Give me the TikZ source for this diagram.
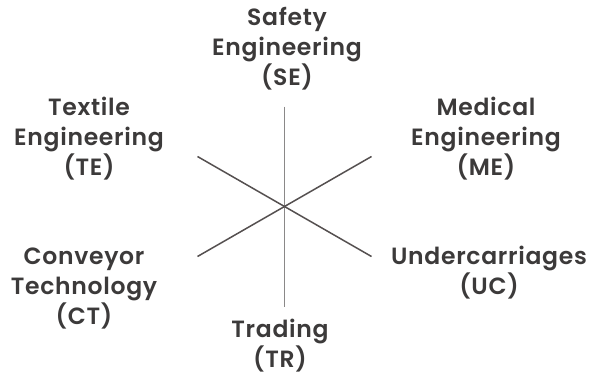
\documentclass[tikz,border=0pt]{standalone}
\usepackage{fontspec}
\setmainfont{Poppins}[LetterSpace=3,BoldFont={Poppins SemiBold}]
\definecolor{txt}{HTML}{3C3A3A}
\definecolor{vline}{HTML}{8A8888}
\definecolor{dline}{HTML}{555050}
\begin{document}
\begin{tikzpicture}[x=1pt,y=-1pt,
  lab/.style={align=center,text=txt,font=\fontsize{23.5}{30}\selectfont\bfseries,inner sep=0pt},
  spoke/.style={line width=1.5pt}]
\useasboundingbox (0,0) rectangle (593,385);
\coordinate (c) at (284.5,206.5);
\coordinate (t) at (284.5,106.5);
\coordinate (b) at (284.5,306.5);
\coordinate (ul) at (197.5,156.5);
\coordinate (ur) at (371.5,156.5);
\coordinate (ll) at (197.5,256.5);
\coordinate (lr) at (371.5,256.5);
\draw[spoke,vline] (t) -- (b);
\draw[spoke,dline] (ul) -- (lr);
\draw[spoke,dline] (ur) -- (ll);
\node[lab] (se) at (287,49) {Safety\\Engineering\\(SE)};
\node[lab] (te) at (89,139) {Textile\\Engineering\\(TE)};
\node[lab] (me) at (486,139) {Medical\\Engineering\\(ME)};
\node[lab] (ct) at (84,289) {Conveyor\\Technology\\(CT)};
\node[lab] (uc) at (489,273) {Undercarriages\\(UC)};
\node[lab] (tr) at (280,346) {Trading\\(TR)};
\end{tikzpicture}
\end{document}
